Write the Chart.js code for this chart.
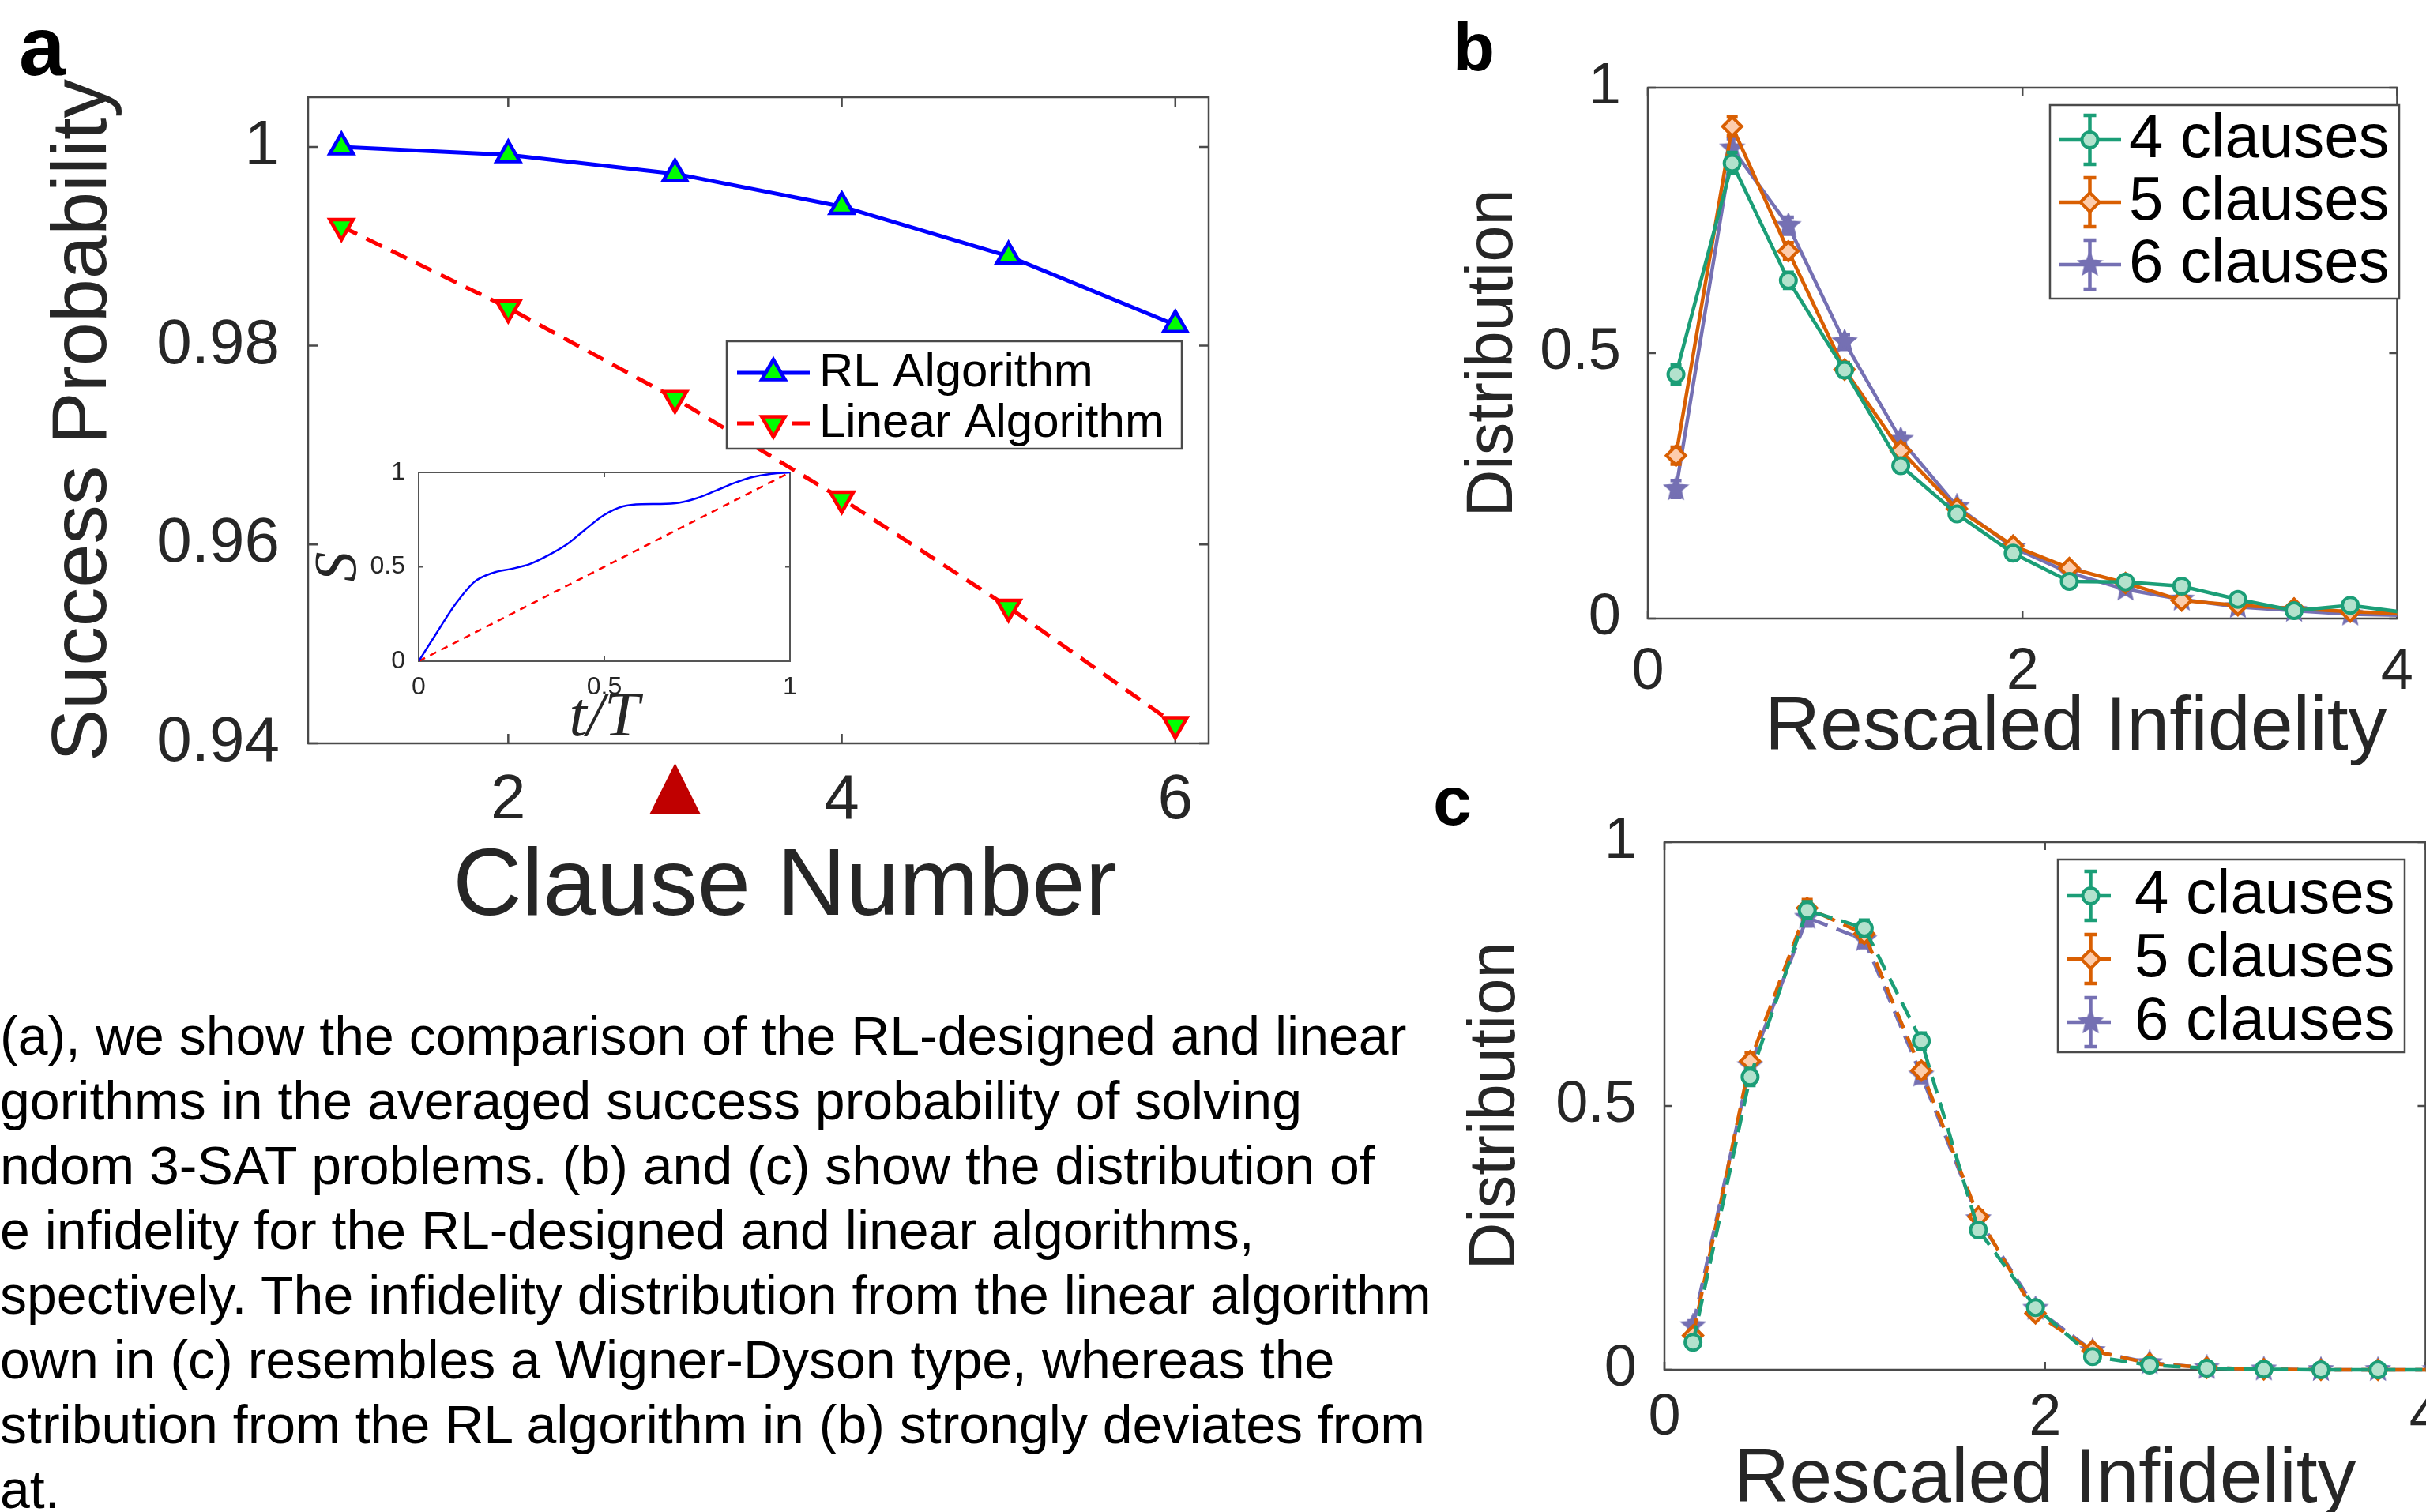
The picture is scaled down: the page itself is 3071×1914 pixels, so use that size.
<!DOCTYPE html>
<html>
<head>
<meta charset="utf-8">
<script src="https://cdn.jsdelivr.net/npm/chart.js@4.4.1/dist/chart.umd.min.js"></script>
<style>
  html, body { margin:0; padding:0; background:#fff; }
  body { width:3071px; height:1914px; overflow:hidden; position:relative; }
  canvas { position:absolute; }
  .lbl { position:absolute; font-family:'Liberation Sans', Arial, sans-serif; font-weight:bold; line-height:1; color:#000; }
  #caption { position:absolute; left:0; top:1270px; font-family:'Liberation Sans', Arial, sans-serif; font-size:68px; line-height:82px; color:#000; white-space:pre; }
</style>
</head>
<body>
<canvas id="chartA" width="1560" height="1250" style="left:0;top:0"></canvas>
<canvas id="chartInset" width="640" height="400" style="left:380px;top:560px"></canvas>
<canvas id="chartB" width="1291" height="980" style="left:1780px;top:0"></canvas>
<canvas id="chartC" width="1320" height="1000" style="left:1780px;top:980px"></canvas>
<div class="lbl" style="left:24px;top:6px;font-size:105px">a</div>
<div class="lbl" style="left:1840px;top:17px;font-size:85px">b</div>
<div class="lbl" style="left:1814px;top:970px;font-size:88px">c</div>
<div id="caption">(a), we show the comparison of the RL-designed and linear
gorithms in the averaged success probability of solving
ndom 3-SAT problems. (b) and (c) show the distribution of
e infidelity for the RL-designed and linear algorithms,
spectively. The infidelity distribution from the linear algorithm
own in (c) resembles a Wigner-Dyson type, whereas the
stribution from the RL algorithm in (b) strongly deviates from
at.</div>
<script>
// ---------------- DATA ----------------
// Panel a
const clauseNumbers = [1, 2, 3, 4, 5, 6];
const rlSuccess = [1.0000, 0.9992, 0.9973, 0.9940, 0.9890, 0.9821];
const linearSuccess = [0.9920, 0.9838, 0.9747, 0.9646, 0.9537, 0.9419];
const aXTicks = [2, 3, 4, 6];
const aXTickLabels = ['2', '▲', '4', '6'];
const aYTicks = [0.94, 0.96, 0.98, 1];

// Inset of panel a
const insetT = [0, 0.05, 0.1, 0.15, 0.2, 0.25, 0.3, 0.35, 0.4, 0.45, 0.5, 0.55, 0.6, 0.65, 0.7, 0.75, 0.8, 0.85, 0.9, 0.95, 1];
const insetRL = [0, 0.155, 0.305, 0.42, 0.468, 0.489, 0.515, 0.562, 0.62, 0.70, 0.775, 0.82, 0.832, 0.833, 0.839, 0.864, 0.903, 0.944, 0.976, 0.993, 1.0];
const insetLinT = [0, 1];
const insetLinear = [0, 1];
const insetTicks = [0, 0.5, 1];

// Panels b and c
const infidelityBins = [0.15, 0.45, 0.75, 1.05, 1.35, 1.65, 1.95, 2.25, 2.55, 2.85, 3.15, 3.45, 3.75, 4.05];
const distXTicks = [0, 2, 4];
const distYTicks = [0, 0.5, 1];
const seriesLabels = ['4 clauses', '5 clauses', '6 clauses'];

const rlDist4 = [0.460, 0.858, 0.637, 0.468, 0.288, 0.197, 0.123, 0.070, 0.069, 0.061, 0.036, 0.015, 0.025, 0.011];
const rlDist5 = [0.307, 0.927, 0.692, 0.469, 0.316, 0.207, 0.137, 0.095, 0.067, 0.034, 0.025, 0.019, 0.013, 0.009];
const rlDist6 = [0.244, 0.886, 0.740, 0.521, 0.337, 0.211, 0.134, 0.086, 0.055, 0.036, 0.022, 0.015, 0.008, 0.006];
const rlErr4 = [0.018, 0.020, 0.015, 0.013, 0.012, 0.010, 0.008, 0.006, 0.005, 0.005, 0.004, 0.003, 0.003, 0.002];
const rlErr5 = [0.016, 0.018, 0.016, 0.013, 0.012, 0.010, 0.008, 0.006, 0.005, 0.004, 0.004, 0.003, 0.003, 0.002];
const rlErr6 = [0.016, 0.018, 0.016, 0.014, 0.012, 0.010, 0.008, 0.006, 0.005, 0.004, 0.004, 0.003, 0.003, 0.002];

const linDist4 = [0.052, 0.555, 0.871, 0.837, 0.623, 0.265, 0.118, 0.025, 0.009, 0.003, 0.001, 0.000, 0.000, 0.000];
const linDist5 = [0.065, 0.585, 0.875, 0.826, 0.567, 0.290, 0.107, 0.036, 0.012, 0.004, 0.001, 0.000, 0.000, 0.000];
const linDist6 = [0.083, 0.576, 0.857, 0.815, 0.558, 0.286, 0.116, 0.036, 0.013, 0.004, 0.001, 0.000, 0.000, 0.000];
const linErr4 = [0.010, 0.016, 0.016, 0.015, 0.015, 0.012, 0.008, 0.005, 0.003, 0.002, 0.001, 0.001, 0.001, 0.001];
const linErr5 = [0.010, 0.016, 0.016, 0.015, 0.014, 0.012, 0.008, 0.005, 0.003, 0.002, 0.001, 0.001, 0.001, 0.001];
const linErr6 = [0.010, 0.016, 0.016, 0.015, 0.014, 0.012, 0.008, 0.005, 0.003, 0.002, 0.001, 0.001, 0.001, 0.001];

// ---------------- STYLE HELPERS ----------------
const SANS = "'Liberation Sans', Arial, Helvetica, sans-serif";
const SERIF = "'Liberation Serif', 'DejaVu Serif', serif";
const AX = '#262626';
const GREEN = '#1b9e77', ORANGE = '#d95f02', PURPLE = '#7570b3';

function makeStar(size, fill, stroke) {
  const c = document.createElement('canvas');
  c.width = c.height = size;
  const g = c.getContext('2d');
  const cx = size / 2, cy = size / 2, r = size / 2 - 2, ri = r * 0.45;
  g.beginPath();
  for (let k = 0; k < 10; k++) {
    const ang = -Math.PI / 2 + k * Math.PI / 5;
    const rr = k % 2 ? ri : r;
    g.lineTo(cx + rr * Math.cos(ang), cy + rr * Math.sin(ang));
  }
  g.closePath();
  g.fillStyle = fill; g.fill();
  g.lineWidth = 2; g.strokeStyle = stroke; g.stroke();
  return c;
}
const starImg = makeStar(34, PURPLE, PURPLE);

function pts(xs, ys) { return xs.map((x, i) => ({ x: x, y: ys[i] })); }
function setTicks(arr) { return (s) => { s.ticks = arr.map(v => ({ value: v })); }; }

// Box with inward ticks (MATLAB style)
const boxPlugin = {
  id: 'mbox',
  beforeDatasetsDraw(chart, args, o) {
    const { ctx, chartArea: a, scales } = chart;
    ctx.save();
    if (o.fill) { ctx.fillStyle = o.fill; ctx.fillRect(a.left, a.top, a.right - a.left, a.bottom - a.top); }
    ctx.strokeStyle = o.color; ctx.lineWidth = o.width;
    ctx.beginPath();
    const skip = o.skipX || [];
    scales.x.ticks.forEach(t => {
      if (skip.includes(t.value)) return;
      const px = scales.x.getPixelForValue(t.value);
      ctx.moveTo(px, a.bottom); ctx.lineTo(px, a.bottom - o.tickLen);
      ctx.moveTo(px, a.top); ctx.lineTo(px, a.top + o.tickLen);
    });
    scales.y.ticks.forEach(t => {
      const py = scales.y.getPixelForValue(t.value);
      ctx.moveTo(a.left, py); ctx.lineTo(a.left + o.tickLen, py);
      ctx.moveTo(a.right, py); ctx.lineTo(a.right - o.tickLen, py);
    });
    ctx.stroke();
    ctx.strokeRect(a.left, a.top, a.right - a.left, a.bottom - a.top);
    ctx.restore();
  }
};

// Vertical error bars, drawn under each dataset
const errPlugin = {
  id: 'errbars',
  beforeDatasetDraw(chart, args) {
    const ds = chart.data.datasets[args.index];
    if (!ds.errors) return;
    const { ctx, chartArea: a, scales: { x, y } } = chart;
    ctx.save();
    ctx.beginPath(); ctx.rect(a.left - 30, a.top - 30, a.right - a.left + 30, a.bottom - a.top + 60); ctx.clip();
    ctx.strokeStyle = ds.borderColor; ctx.lineWidth = ds.borderWidth; ctx.setLineDash([]);
    ctx.beginPath();
    ds.data.forEach((p, j) => {
      const e = ds.errors[j];
      const px = x.getPixelForValue(p.x);
      const y0 = y.getPixelForValue(p.y - e), y1 = y.getPixelForValue(p.y + e);
      ctx.moveTo(px, y0); ctx.lineTo(px, y1);
      ctx.moveTo(px - 7, y0); ctx.lineTo(px + 7, y0);
      ctx.moveTo(px - 7, y1); ctx.lineTo(px + 7, y1);
    });
    ctx.stroke();
    ctx.restore();
  }
};

// MATLAB-like legend (line + marker + optional error bar)
const legendPlugin = {
  id: 'mlegend',
  afterDraw(chart, args, o) {
    if (!o.box) return;
    const ctx = chart.ctx;
    const [x0, y0, x1, y1] = o.box;
    ctx.save();
    ctx.fillStyle = '#fff'; ctx.fillRect(x0, y0, x1 - x0, y1 - y0);
    ctx.strokeStyle = o.borderColor; ctx.lineWidth = 2.5; ctx.strokeRect(x0, y0, x1 - x0, y1 - y0);
    chart.data.datasets.forEach((ds, i) => {
      const ry = o.rows[i];
      const cx = (o.lineX0 + o.lineX1) / 2;
      ctx.strokeStyle = ds.borderColor; ctx.lineWidth = ds.borderWidth;
      ctx.setLineDash(ds.borderDash || []);
      ctx.beginPath(); ctx.moveTo(o.lineX0, ry); ctx.lineTo(o.lineX1, ry); ctx.stroke();
      ctx.setLineDash([]);
      if (ds.errors) {
        ctx.beginPath();
        ctx.moveTo(cx, ry - o.errH); ctx.lineTo(cx, ry + o.errH);
        ctx.moveTo(cx - 8, ry - o.errH); ctx.lineTo(cx + 8, ry - o.errH);
        ctx.moveTo(cx - 8, ry + o.errH); ctx.lineTo(cx + 8, ry + o.errH);
        ctx.stroke();
      }
      ctx.fillStyle = ds.pointBackgroundColor; ctx.strokeStyle = ds.pointBorderColor;
      ctx.lineWidth = ds.pointBorderWidth;
      Chart.helpers.drawPoint(ctx, { pointStyle: ds.pointStyle, rotation: ds.pointRotation || 0, radius: ds.pointRadius, borderWidth: ds.pointBorderWidth }, cx, ry);
      ctx.fillStyle = '#000'; ctx.font = o.fontSize + 'px ' + SANS; ctx.textBaseline = 'middle'; ctx.textAlign = 'left';
      ctx.fillText(ds.label, o.textX, ry);
    });
    ctx.restore();
  }
};

Chart.register(boxPlugin, errPlugin, legendPlugin);

const common = { responsive: false, animation: false, devicePixelRatio: 1, events: [] };

// ---------------- PANEL a ----------------
new Chart(document.getElementById('chartA'), {
  type: 'line',
  data: {
    datasets: [
      { label: 'RL Algorithm', data: pts(clauseNumbers, rlSuccess), borderColor: '#0000ff', borderWidth: 5,
        pointStyle: 'triangle', pointRadius: 17, pointBorderWidth: 4.5, pointBackgroundColor: '#00ff00',
        pointBorderColor: '#0000ff', fill: false, tension: 0, clip: false },
      { label: 'Linear Algorithm', data: pts(clauseNumbers, linearSuccess), borderColor: '#ff0000', borderWidth: 5,
        borderDash: [22, 13], pointStyle: 'triangle', pointRotation: 180, pointRadius: 17, pointBorderWidth: 4.5,
        pointBackgroundColor: '#00ff00', pointBorderColor: '#ff0000', fill: false, tension: 0, clip: false }
    ]
  },
  options: Object.assign({}, common, {
    layout: { padding: { left: 0, top: 123, right: 30, bottom: 51 } },
    plugins: {
      legend: { display: false }, tooltip: { enabled: false },
      mbox: { color: '#4a4a4a', width: 2.5, tickLen: 12, skipX: [3] },
      mlegend: { box: [920, 432, 1496, 568], borderColor: '#4a4a4a', rows: [472, 536], lineX0: 933, lineX1: 1025, textX: 1037, fontSize: 60 }
    },
    scales: {
      x: {
        type: 'linear', min: 0.8, max: 6.2,
        afterBuildTicks: setTicks(aXTicks),
        afterFit: (s) => { s.height = 258; },
        grid: { display: false }, border: { display: false },
        ticks: {
          padding: 17, autoSkip: false, maxRotation: 0,
          callback: (v) => aXTickLabels[aXTicks.indexOf(v)],
          color: (c) => (c.tick && c.tick.value === 3) ? '#c00000' : AX,
          font: (c) => (c.tick && c.tick.value === 3) ? { family: "'DejaVu Sans', sans-serif", size: 84, lineHeight: 0.77 } : { family: SANS, size: 80 }
        },
        title: { display: true, text: '  Clause Number', color: AX, font: { family: SANS, size: 121 }, padding: { top: 0, bottom: 2 } }
      },
      y: {
        type: 'linear', min: 0.94, max: 1.005,
        afterBuildTicks: setTicks(aYTicks),
        afterFit: (s) => { s.width = 390; },
        grid: { display: false }, border: { display: false },
        ticks: { padding: 28, color: AX, font: { family: SANS, size: 80 }, callback: (v) => String(v) },
        title: { display: true, text: 'Success Probability', color: AX, font: { family: SANS, size: 99 }, padding: { top: 47, bottom: 0 } }
      }
    }
  })
});

// ---------------- INSET ----------------
new Chart(document.getElementById('chartInset'), {
  type: 'line',
  data: {
    datasets: [
      { label: 'RL', data: pts(insetT, insetRL), borderColor: '#0000ff', borderWidth: 2.5, pointRadius: 0,
        cubicInterpolationMode: 'monotone', fill: false },
      { label: 'Linear', data: pts(insetLinT, insetLinear), borderColor: '#ff0000', borderWidth: 2.5,
        borderDash: [9, 7], pointRadius: 0, fill: false }
    ]
  },
  options: Object.assign({}, common, {
    layout: { padding: { left: 0, top: 38, right: 20, bottom: 0 } },
    plugins: {
      legend: { display: false }, tooltip: { enabled: false },
      mbox: { color: '#555555', width: 2, tickLen: 6, fill: '#ffffff' }
    },
    scales: {
      x: {
        type: 'linear', min: 0, max: 1,
        afterBuildTicks: setTicks(insetTicks),
        afterFit: (s) => { s.height = 123; },
        grid: { display: false }, border: { display: false },
        ticks: { padding: 6, color: AX, font: { family: SANS, size: 32 }, maxRotation: 0, callback: (v) => String(v) },
        title: { display: true, text: 't/T', color: AX, font: { family: SERIF, size: 80, style: 'italic', lineHeight: 1.0 }, padding: { top: 0, bottom: 10 } }
      },
      y: {
        type: 'linear', min: 0, max: 1,
        afterBuildTicks: setTicks(insetTicks),
        afterFit: (s) => { s.width = 150; },
        grid: { display: false }, border: { display: false },
        ticks: { padding: 9, color: AX, font: { family: SANS, size: 32 }, callback: (v) => String(v) },
        title: { display: true, text: 'S', color: AX, font: { family: SERIF, size: 76, style: 'italic', lineHeight: 1.0 }, padding: { top: 12, bottom: 0 } }
      }
    }
  })
});

// ---------------- PANELS b, c ----------------
function distDatasets(d4, d5, d6, e4, e5, e6, dash) {
  const base = { borderWidth: 4.5, fill: false, tension: 0, borderDash: dash };
  return [
    Object.assign({ label: seriesLabels[0], data: pts(infidelityBins, d4), errors: e4, borderColor: GREEN,
      pointStyle: 'circle', pointRadius: 10, pointBorderWidth: 4, pointBackgroundColor: '#b3e2cd', pointBorderColor: GREEN }, base),
    Object.assign({ label: seriesLabels[1], data: pts(infidelityBins, d5), errors: e5, borderColor: ORANGE,
      pointStyle: 'rectRot', pointRadius: 12, pointBorderWidth: 4, pointBackgroundColor: '#fdcdac', pointBorderColor: ORANGE }, base),
    Object.assign({ label: seriesLabels[2], data: pts(infidelityBins, d6), errors: e6, borderColor: PURPLE,
      pointStyle: starImg, pointRadius: 14, pointBorderWidth: 2, pointBackgroundColor: PURPLE, pointBorderColor: PURPLE }, base)
  ];
}

function distOptions(cfg) {
  return Object.assign({}, common, {
    layout: { padding: cfg.padding },
    plugins: {
      legend: { display: false }, tooltip: { enabled: false },
      mbox: { color: '#4a4a4a', width: 2.5, tickLen: 10 },
      mlegend: cfg.legend
    },
    scales: {
      x: {
        type: 'linear', min: 0, max: 4,
        afterBuildTicks: setTicks(distXTicks),
        afterFit: (s) => { s.height = cfg.xHeight; },
        grid: { display: false }, border: { display: false },
        ticks: { padding: cfg.xPad, color: AX, font: { family: SANS, size: 74 }, maxRotation: 0, callback: (v) => String(v) },
        title: { display: true, text: cfg.xTitle, color: AX, font: { family: SANS, size: 97 }, padding: { top: 0, bottom: cfg.xTitlePad } }
      },
      y: {
        type: 'linear', min: 0, max: 1,
        afterBuildTicks: setTicks(distYTicks),
        afterFit: (s) => { s.width = cfg.yWidth; },
        grid: { display: false }, border: { display: false },
        ticks: { padding: cfg.yPad, color: AX, font: { family: SANS, size: 74 }, callback: (v) => String(v) },
        title: { display: true, text: 'Distribution', color: AX, font: { family: SANS, size: 83 }, padding: { top: cfg.yTitlePad, bottom: 0 } }
      }
    }
  });
}

const dsB = distDatasets(rlDist4, rlDist5, rlDist6, rlErr4, rlErr5, rlErr6, []);
dsB.forEach(d => { d.clip = { left: 30, top: 30, right: 0, bottom: 30 }; });
new Chart(document.getElementById('chartB'), {
  type: 'line',
  data: { datasets: dsB },
  options: distOptions({
    padding: { left: 0, top: 111, right: 7, bottom: 0 },
    xHeight: 197, yWidth: 306, xPad: 16, yPad: 26, xTitlePad: 0, yTitlePad: 61,
    xTitle: '     Rescaled Infidelity',
    legend: { box: [815, 133, 1257, 378], borderColor: '#4a4a4a', rows: [177, 256, 335], lineX0: 826, lineX1: 905, textX: 915, fontSize: 78, errH: 31 }
  })
});

const dsC = distDatasets(linDist4, linDist5, linDist6, linErr4, linErr5, linErr6, [22, 12]);
dsC.forEach(d => { d.clip = { left: 30, top: 30, right: 0, bottom: 30 }; });
new Chart(document.getElementById('chartC'), {
  type: 'line',
  data: { datasets: dsC },
  options: distOptions({
    padding: { left: 0, top: 86, right: 23, bottom: 0 },
    xHeight: 246, yWidth: 327, xPad: 9, yPad: 27, xTitlePad: 48, yTitlePad: 64,
    xTitle: 'Rescaled Infidelity',
    legend: { box: [825, 108, 1264, 352], borderColor: '#4a4a4a', rows: [154, 234, 314], lineX0: 836, lineX1: 897, textX: 922, fontSize: 78, errH: 31 }
  })
});
</script>
</body>
</html>
